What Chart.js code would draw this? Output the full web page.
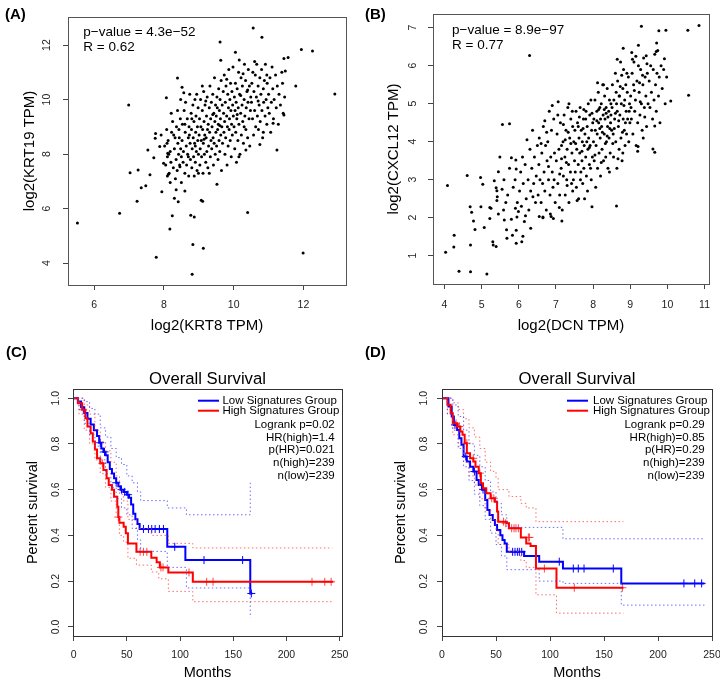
<!DOCTYPE html>
<html>
<head>
<meta charset="utf-8">
<script src="https://cdn.jsdelivr.net/npm/chart.js@4.4.1/dist/chart.umd.min.js"></script>
<style>
  body { margin: 0; background: #fff; overflow: hidden; font-family: "Liberation Sans", Arial, sans-serif; }
  #fig { position: relative; width: 720px; height: 679px; overflow: hidden; }
  canvas { position: absolute; }
  .tag { position: absolute; font-weight: bold; font-size: 15px; line-height: 18px; color: #000; }
</style>
</head>
<body>
<div id="fig">
  <canvas id="pa" width="360" height="335" style="left:0;top:0"></canvas>
  <canvas id="pb" width="360" height="335" style="left:360px;top:0"></canvas>
  <canvas id="pc" width="360" height="352" style="left:0;top:335px"></canvas>
  <canvas id="pd" width="360" height="352" style="left:360px;top:335px"></canvas>
  <div class="tag" style="left:5px;top:5px">(A)</div>
  <div class="tag" style="left:365px;top:5px">(B)</div>
  <div class="tag" style="left:6px;top:343px">(C)</div>
  <div class="tag" style="left:365px;top:343px">(D)</div>
</div>
<script>
// (A) log2(KRT8 TPM) vs log2(KRT19 TPM)
const krt8vs19 = [
  [5.52,5.47],[6.73,5.83],[6.99,9.8],[7.03,7.32],[7.26,7.42],[7.23,6.27],[7.35,6.77],[7.48,6.84],[7.6,7.24],[7.54,8.15],
  [7.71,7.87],[7.75,8.58],[7.76,8.76],[7.94,6.62],[7.78,4.22],[7.88,8.28],[7.92,8.7],[7.99,7.67],[8.07,10.07],[8.09,8.4],
  [8.11,8.03],[8.13,7.26],[8.18,6.96],[8.17,5.25],[8.24,5.74],[8.3,6.38],[8.35,6.69],[8.41,6.25],[8.39,10.79],[8.52,10.45],
  [8.48,10.0],[8.46,7.54],[8.5,6.96],[8.6,6.65],[8.77,5.76],[8.87,5.69],[8.83,4.69],[8.81,3.59],[9.13,4.55],[8.99,7.3],
  [9.07,6.31],[9.11,6.27],[9.52,6.9],[9.61,12.11],[9.63,11.44],[10.56,12.63],[10.81,12.29],[11.94,11.84],[12.26,11.78],[11.56,11.54],
  [11.44,11.51],[11.78,10.5],[12.9,10.21],[11.44,9.44],[11.24,8.15],[11.13,9.13],[11.99,4.37],[10.4,5.86],[10.05,11.74],[10.16,11.45],
  [8.02,8.3],[8.05,7.6],[8.08,8.9],[8.1,7.9],[8.12,8.5],[8.15,7.3],[8.18,8.1],[8.2,7.7],[8.22,8.8],[8.25,9.2],
  [8.27,7.5],[8.3,8.2],[8.32,8.6],[8.35,7.8],[8.36,9.0],[8.38,7.4],[8.4,8.4],[8.42,8.0],[8.43,8.9],[8.45,7.6],
  [8.47,9.3],[8.48,8.2],[8.5,7.9],[8.28,8.7],[8.14,8.0],[8.33,7.1],[8.44,8.6],[8.21,9.5],[8.39,9.6],[8.1,7.2],
  [8.52,8.5],[8.53,9.1],[8.55,7.7],[8.56,8.1],[8.58,9.6],[8.6,7.3],[8.61,8.8],[8.62,9.9],[8.64,8.3],[8.65,7.6],
  [8.67,9.3],[8.68,8.0],[8.7,8.6],[8.71,7.2],[8.72,9.0],[8.74,10.2],[8.75,8.4],[8.76,7.8],[8.78,9.5],[8.79,8.9],
  [8.8,7.5],[8.81,8.2],[8.83,9.8],[8.84,8.6],[8.85,7.9],[8.86,9.2],[8.88,8.4],[8.89,10.0],[8.9,7.7],[8.91,8.8],
  [8.92,9.4],[8.93,8.1],[8.95,7.4],[8.96,9.0],[8.97,8.5],[8.98,9.7],[8.99,8.0],[8.6,9.1],[8.7,7.9],[8.8,9.3],
  [8.9,8.3],[8.57,10.25],[8.73,8.7],[8.87,7.2],[8.94,10.2],
  [9.01,8.7],[9.02,9.3],[9.03,7.6],[9.04,8.2],[9.05,10.0],[9.06,9.0],[9.07,8.5],[9.08,7.9],[9.1,9.6],[9.11,8.9],
  [9.12,7.3],[9.13,8.4],[9.14,10.3],[9.15,9.2],[9.16,8.0],[9.17,8.7],[9.18,9.8],[9.2,7.7],[9.21,8.6],[9.22,9.4],
  [9.23,8.1],[9.24,10.1],[9.25,8.9],[9.26,7.5],[9.27,9.1],[9.28,8.3],[9.3,9.7],[9.31,8.8],[9.32,10.5],[9.33,7.9],
  [9.34,9.3],[9.35,8.5],[9.36,9.9],[9.37,8.2],[9.38,9.0],[9.4,10.2],[9.41,8.6],[9.42,7.6],[9.43,9.5],[9.44,8.4],
  [9.45,10.8],[9.46,9.2],[9.47,8.0],[9.48,9.8],[9.49,8.8],[9.1,10.5],[9.2,9.95],[9.3,7.3],[9.4,9.45],[9.15,8.55],
  [9.5,9.4],[9.51,8.3],[9.52,10.1],[9.53,9.7],[9.54,8.9],[9.55,7.8],[9.56,9.1],[9.57,10.4],[9.58,8.5],[9.59,9.6],
  [9.6,8.1],[9.61,10.0],[9.62,9.3],[9.63,8.7],[9.64,10.7],[9.65,7.4],[9.66,9.0],[9.67,9.8],[9.68,8.4],[9.7,10.3],
  [9.71,9.5],[9.72,8.8],[9.73,10.9],[9.74,9.2],[9.75,8.0],[9.76,9.9],[9.77,8.6],[9.78,10.5],[9.8,9.4],[9.81,7.6],
  [9.82,9.0],[9.83,10.2],[9.84,8.3],[9.85,9.7],[9.86,11.1],[9.87,8.9],[9.88,9.3],[9.89,10.0],[9.9,8.5],[9.91,10.6],
  [9.92,9.6],[9.93,7.9],[9.94,9.1],[9.95,10.3],[9.96,8.7],[9.97,9.8],[9.98,11.2],[9.99,9.4],[9.6,9.05],[9.8,10.75],
  [10.01,9.0],[10.02,10.1],[10.03,8.2],[10.04,9.6],[10.05,10.6],[10.06,8.8],[10.07,9.9],[10.08,7.7],[10.09,9.3],[10.1,10.4],
  [10.12,8.5],[10.13,9.7],[10.14,11.0],[10.15,9.1],[10.17,10.2],[10.18,8.0],[10.2,9.5],[10.21,10.8],[10.22,8.7],[10.24,9.8],
  [10.25,10.5],[10.26,9.2],[10.28,8.4],[10.3,10.0],[10.31,11.3],[10.32,9.4],[10.34,10.7],[10.35,8.9],[10.36,9.7],[10.38,10.3],
  [10.4,8.6],[10.41,9.9],[10.42,11.1],[10.44,9.3],[10.45,10.5],[10.46,8.3],[10.48,9.6],[10.49,10.1],[10.1,9.45],[10.2,10.15],
  [10.3,9.0],[10.4,10.35],[10.15,7.9],[10.35,8.15],[10.27,10.95],
  [10.51,9.9],[10.52,10.6],[10.54,9.3],[10.55,11.0],[10.57,8.7],[10.58,10.3],[10.6,9.6],[10.62,10.9],[10.63,9.0],[10.65,10.1],
  [10.66,11.3],[10.68,9.4],[10.7,10.5],[10.71,8.9],[10.73,9.8],[10.75,10.8],[10.76,9.2],[10.78,10.2],[10.8,11.1],[10.81,9.6],
  [10.83,8.6],[10.85,10.4],[10.86,9.9],[10.88,10.7],[10.9,9.4],[10.91,11.3],[10.93,10.0],[10.95,9.1],[10.96,10.6],[10.98,9.7],
  [10.6,11.4],[10.7,9.95],[10.85,8.8],[10.75,8.35],[10.95,10.9],
  [11.0,10.2],[11.02,9.5],[11.04,10.8],[11.06,8.8],[11.08,9.9],[11.1,11.2],[11.12,10.4],[11.14,9.3],[11.16,10.0],[11.2,10.9],
  [11.22,9.7],[11.25,10.5],[11.28,9.1],[11.3,10.2],[11.34,9.8],[11.38,11.0],[11.4,10.6],[11.42,9.5],[11.46,10.1],[11.48,11.05]
];

// (B) log2(DCN TPM) vs log2(CXCL12 TPM)
const dcnVsCxcl12 = [
  [4.03,1.09],[4.08,2.85],[4.25,1.23],[4.26,1.54],[4.39,0.59],[4.7,0.58],[5.14,0.52],[4.61,3.11],[4.97,3.06],[5.03,2.88],
  [4.69,2.29],[4.98,2.29],[4.73,2.14],[4.78,1.91],[4.82,1.69],[4.7,1.28],[5.07,1.74],[5.22,2.27],[5.22,1.98],[5.45,3.21],
  [5.34,2.97],[5.41,2.71],[5.42,2.55],[5.41,2.45],[5.45,2.1],[5.25,2.25],[5.3,1.37],[5.39,1.24],[5.31,1.28],[5.67,1.68],
  [5.68,1.46],[5.59,2.2],[5.61,1.94],[5.49,3.6],[5.39,2.79],[5.8,3.58],[5.92,3.52],[5.93,3.28],[5.8,1.96],[5.95,2.02],
  [5.91,2.25],[5.83,1.54],[5.93,1.33],[6.08,1.37],[6.11,1.51],[5.93,1.67],[5.96,2.4],[5.99,2.16],[6.32,1.72],[6.55,2.03],
  [6.65,2.02],[6.87,2.03],[6.93,1.98],[7.16,1.91],[7.09,2.27],[5.56,4.45],[5.75,4.47],[6.29,6.27],[8.63,2.31],[7.97,2.29],
  [9.3,7.04],[9.77,6.92],[9.96,6.93],[10.55,6.93],[10.85,7.06],[10.57,5.22],[10.09,5.07],[9.61,3.81],[9.66,3.72],[9.21,3.87],
  [9.66,4.41],[8.81,6.46],[9.22,6.54],[9.71,6.6],[9.04,6.35],[9.7,6.37],[9.06,6.17],[8.65,6.17],[9.43,6.26],[9.92,6.18],
  [5.6,3.0],[5.7,2.6],[5.75,3.3],[5.85,2.8],[5.65,2.4],[5.9,3.0],[5.55,2.75],
  [6.02,2.7],[6.05,3.2],[6.07,2.3],[6.1,3.6],[6.12,2.9],[6.15,1.9],[6.17,3.4],[6.2,2.5],[6.22,4.05],[6.25,3.0],
  [6.27,2.2],[6.3,3.8],[6.32,2.7],[6.35,3.3],[6.37,4.3],[6.4,2.9],[6.42,3.6],[6.45,2.4],[6.47,3.1],[6.5,3.9],
  [6.18,2.05],[6.38,2.55],
  [6.52,2.6],[6.54,3.4],[6.55,4.1],[6.57,3.0],[6.6,2.4],[6.62,3.7],[6.64,2.9],[6.66,4.4],[6.68,3.2],[6.7,2.7],
  [6.72,3.9],[6.74,2.2],[6.76,3.5],[6.78,4.0],[6.8,3.0],[6.82,4.8],[6.84,2.6],[6.86,3.6],[6.88,4.3],[6.9,3.2],
  [6.92,2.8],[6.94,4.6],[6.96,3.7],[6.98,2.4],[6.6,3.95],[6.7,4.55],[6.8,3.35],[6.9,4.95],[6.95,3.0],[6.65,2.0],
  [6.85,2.1],[6.75,4.25],
  [7.01,3.5],[7.03,4.2],[7.05,2.9],[7.06,5.05],[7.08,3.8],[7.1,2.6],[7.12,4.5],[7.14,3.3],[7.15,3.9],[7.17,2.2],
  [7.19,4.0],[7.2,3.1],[7.22,4.7],[7.24,3.6],[7.25,2.6],[7.27,4.3],[7.29,3.0],[7.3,3.8],[7.32,4.9],[7.34,3.4],
  [7.35,2.4],[7.37,4.1],[7.39,3.2],[7.4,4.6],[7.42,2.9],[7.43,3.7],[7.45,4.4],[7.47,3.0],[7.48,4.0],[7.5,3.5],
  [7.05,4.7],[7.15,3.55],[7.25,4.05],[7.35,5.0],[7.45,2.7],[7.1,3.15],[7.3,2.85],[7.4,3.95],[7.2,4.45],[7.33,4.25],
  [7.44,4.8],[7.28,3.45],
  [7.51,4.3],[7.52,3.2],[7.54,4.8],[7.55,2.8],[7.56,3.8],[7.58,4.5],[7.6,3.4],[7.61,2.5],[7.62,4.1],[7.64,3.7],
  [7.65,4.9],[7.66,3.0],[7.68,4.3],[7.7,3.5],[7.71,4.0],[7.72,2.9],[7.74,4.6],[7.75,3.3],[7.76,3.9],[7.78,4.2],
  [7.8,3.6],[7.81,4.8],[7.82,3.1],[7.84,4.4],[7.85,2.7],[7.86,3.8],[7.88,4.1],[7.9,3.4],[7.91,4.7],[7.92,3.9],
  [7.94,5.1],[7.95,3.0],[7.96,4.3],[7.98,3.6],[7.99,4.5],[7.53,3.95],[7.57,2.45],[7.63,4.65],[7.67,3.2],[7.73,4.35],
  [7.77,2.5],[7.83,4.0],[7.87,5.0],[7.93,3.3],[7.97,4.75],[7.6,4.4],[7.7,3.75],[7.8,4.6],[7.9,3.85],[7.75,4.85],
  [8.01,4.0],[8.02,4.6],[8.03,3.5],[8.05,5.1],[8.06,4.3],[8.07,2.8],[8.08,3.9],[8.1,4.8],[8.11,4.2],[8.12,3.3],
  [8.14,5.3],[8.15,4.5],[8.16,3.7],[8.18,4.9],[8.19,4.1],[8.2,3.1],[8.22,5.0],[8.23,4.4],[8.24,3.8],[8.26,5.5],
  [8.27,4.7],[8.28,3.5],[8.3,4.2],[8.31,5.2],[8.32,4.6],[8.34,3.6],[8.35,4.9],[8.36,4.0],[8.38,5.4],[8.39,4.4],
  [8.4,3.3],[8.42,4.8],[8.43,4.1],[8.44,5.1],[8.46,3.7],[8.47,4.5],[8.48,5.0],[8.5,4.3],[8.05,3.65],[8.15,4.85],
  [8.25,4.25],[8.35,4.75],[8.45,4.35],[8.1,4.55],[8.2,4.6],[8.3,4.85],[8.4,4.65],[8.12,5.55],[8.22,3.45],[8.33,3.95],
  [8.44,3.2],[8.28,5.5],[8.18,4.35],[8.38,4.15],[8.48,4.7],
  [8.51,4.9],[8.52,5.5],[8.54,4.2],[8.55,3.6],[8.56,5.1],[8.58,4.6],[8.6,5.8],[8.61,4.0],[8.62,5.3],[8.64,3.3],
  [8.65,4.8],[8.66,5.6],[8.68,4.4],[8.7,3.8],[8.71,5.2],[8.72,4.7],[8.74,6.1],[8.75,4.1],[8.76,5.0],[8.78,3.5],
  [8.8,5.4],[8.81,4.6],[8.82,5.9],[8.84,4.3],[8.85,5.1],[8.86,3.9],[8.88,5.5],[8.89,4.8],[8.9,4.2],[8.92,5.3],
  [8.93,4.6],[8.95,5.7],[8.96,4.0],[8.98,5.0],[8.99,4.5],[8.57,4.35],[8.63,5.0],[8.69,4.55],[8.73,5.45],[8.79,4.25],
  [8.83,4.95],[8.87,4.5],[8.91,5.8],[8.97,4.8],[8.53,3.95],[8.67,3.55],[8.77,5.75],[8.6,4.75],[8.7,5.2],[8.8,3.7],
  [9.01,5.2],[9.03,4.6],[9.05,5.8],[9.07,4.2],[9.09,5.5],[9.1,6.1],[9.12,4.8],[9.14,5.1],[9.16,3.9],[9.18,5.6],
  [9.2,4.5],[9.22,6.0],[9.24,5.3],[9.26,4.7],[9.28,5.9],[9.3,5.0],[9.32,4.3],[9.34,5.5],[9.36,6.2],[9.38,4.9],
  [9.4,5.7],[9.42,5.2],[9.44,4.4],[9.46,5.8],[9.48,5.0],[9.02,4.9],[9.11,5.35],[9.2,3.75],[9.27,5.05],[9.33,5.75],
  [9.39,4.65],[9.45,6.05],[9.15,6.25],[9.25,5.55],[9.35,4.1],
  [9.51,5.6],[9.53,4.9],[9.55,6.0],[9.57,5.3],[9.6,4.6],[9.62,5.9],[9.64,5.1],[9.66,6.3],[9.68,5.5],[9.7,4.8],
  [9.72,5.8],[9.74,6.4],[9.76,5.2],[9.78,5.7],[9.8,4.5],[9.83,6.0],[9.86,5.4],[9.9,5.9],[9.94,5.0],[9.98,5.7]
];

// (C) Kaplan-Meier, months and survival after each step
const cLowT  = [0,4,7,10,13,16,19,22,24,26,28,30,32,34,36,38,40,42,44,47,50,52,54,56,58,60,62,88,105,166,168];
const cLowS  = [1,0.985,0.96,0.935,0.91,0.885,0.86,0.835,0.805,0.78,0.765,0.75,0.72,0.69,0.67,0.65,0.63,0.615,0.6,0.59,0.578,0.565,0.535,0.495,0.47,0.45,0.428,0.35,0.292,0.146,0.146];
const cHighT = [0,4,8,11,13,16,18,20,22,25,28,31,33,36,38,41,42,43,47,49,51,59,73,78,81,89,112,244];
const cHighS = [1,0.978,0.949,0.912,0.876,0.847,0.81,0.775,0.737,0.715,0.686,0.65,0.62,0.6,0.569,0.525,0.48,0.455,0.438,0.409,0.365,0.328,0.302,0.282,0.26,0.238,0.197,0.197];
const cLowCensT  = [25,29,40,45,48,51,65.6,70.3,73.4,76.6,80.6,84.4,95,122.5,158.8,167];
const cLowCensS  = [0.805,0.765,0.63,0.6,0.59,0.578,0.428,0.428,0.428,0.428,0.428,0.428,0.35,0.292,0.292,0.146];
const cHighCensT = [9,27,42,62.5,65.6,68.8,82,84,108.4,125,131,224,236,242];
const cHighCensS = [0.949,0.715,0.48,0.328,0.328,0.328,0.26,0.26,0.238,0.197,0.197,0.197,0.197,0.197];
const cLowUpT  = [0,5,10,15,20,25,30,35,40,45,50,55,60,63,88,106,166];
const cLowUpS  = [1,1,0.985,0.955,0.93,0.87,0.83,0.78,0.74,0.71,0.66,0.63,0.59,0.552,0.52,0.49,0.63];
const cLowLoT  = [0,5,10,15,20,25,30,35,40,45,50,55,60,63,88,106,166];
const cLowLoS  = [1,0.95,0.89,0.84,0.79,0.73,0.67,0.61,0.56,0.52,0.49,0.43,0.38,0.33,0.26,0.17,0.04];
const cHighUpT = [0,5,10,15,20,25,30,35,40,43,47,51,59,73,89,112,243];
const cHighUpS = [1,1,0.97,0.93,0.86,0.81,0.77,0.72,0.66,0.58,0.55,0.47,0.43,0.4,0.365,0.345,0.345];
const cHighLoT = [0,5,10,15,20,25,30,35,40,43,47,51,59,73,80,89,112,243];
const cHighLoS = [1,0.93,0.86,0.8,0.73,0.67,0.61,0.55,0.49,0.4,0.37,0.3,0.27,0.24,0.21,0.155,0.11,0.11];

// (D) Kaplan-Meier
const dLowT  = [0,6,9,11,14,16,18,20,23,26,29,32,34,37,40,42,44,47,49,51,54,56,58,60,76,90,112,166,243];
const dLowS  = [1,0.964,0.92,0.883,0.861,0.825,0.796,0.745,0.723,0.7,0.679,0.642,0.62,0.6,0.555,0.511,0.489,0.467,0.445,0.423,0.4,0.38,0.365,0.328,0.31,0.285,0.255,0.19,0.19];
const dHighT = [0,5,8,10,14,17,19,21,23,26,29,31,34,36,38,41,45,49,51,52,60,62,73,78,82,87,106,168];
const dHighS = [1,0.971,0.934,0.89,0.876,0.854,0.84,0.803,0.759,0.737,0.723,0.7,0.672,0.628,0.606,0.584,0.562,0.547,0.504,0.46,0.453,0.431,0.391,0.365,0.353,0.255,0.171,0.171];
const dLowCensT  = [12,22,30,38,65.4,67.6,69.8,71.6,73.8,108.6,121.6,126.2,131.5,158.6,224,234,240.4];
const dLowCensS  = [0.883,0.745,0.679,0.6,0.328,0.328,0.328,0.328,0.328,0.285,0.255,0.255,0.255,0.255,0.19,0.19,0.19];
const dHighCensT = [13,16,23,29,35,46,48,57,59,64.5,66.7,68.5,70.7,80,81,94.8,122.5,167];
const dHighCensS = [0.89,0.876,0.803,0.737,0.672,0.562,0.562,0.46,0.453,0.431,0.431,0.431,0.431,0.391,0.391,0.255,0.171,0.171];
const dLowUpT  = [0,5,10,15,20,25,30,35,40,45,50,55,60,112,243];
const dLowUpS  = [1,1,0.97,0.92,0.86,0.8,0.75,0.7,0.64,0.59,0.54,0.49,0.435,0.385,0.385];
const dLowLoT  = [0,5,10,15,20,25,30,35,40,45,50,55,60,90,112,166,243];
const dLowLoS  = [1,0.93,0.86,0.78,0.7,0.64,0.58,0.53,0.47,0.41,0.36,0.31,0.25,0.2,0.19,0.095,0.095];
const dHighUpT = [0,5,10,15,20,25,30,35,40,45,50,52,62,73,78,87,168];
const dHighUpS = [1,1,0.98,0.95,0.91,0.87,0.83,0.78,0.72,0.68,0.65,0.6,0.57,0.54,0.52,0.46,0.46];
const dHighLoT = [0,5,10,15,20,25,30,35,40,45,50,52,62,73,78,87,106,168];
const dHighLoS = [1,0.93,0.84,0.79,0.72,0.66,0.62,0.56,0.51,0.47,0.42,0.36,0.33,0.29,0.26,0.14,0.06,0.06];

const statsC = ['Logrank p=0.02', 'HR(high)=1.4', 'p(HR)=0.021', 'n(high)=239', 'n(low)=239'];
const statsD = ['Logrank p=0.29', 'HR(high)=0.85', 'p(HR)=0.29', 'n(high)=239', 'n(low)=239'];
const groups = ['Low Signatures Group', 'High Signatures Group'];

const FONT = '"Liberation Sans", Arial, sans-serif';
const BLUE = '#0000ff', RED = '#ff0000';

const pts = (t, s) => t.map((v, i) => ({ x: v, y: s[i] }));
const pairs = arr => arr.map(p => ({ x: p[0], y: p[1] }));

// frame around the plot area, notes and the KM legend (R style)
const notesPlugin = {
  id: 'notes',
  afterDraw(chart, args, o) {
    const { ctx, chartArea: a } = chart;
    ctx.save();
    ctx.strokeStyle = o.frame || '#444';
    ctx.lineWidth = 1;
    ctx.strokeRect(Math.round(a.left) + 0.5, Math.round(a.top) + 0.5, Math.round(a.width), Math.round(a.height));
    ctx.textBaseline = 'middle';
    (o.keys || []).forEach(k => {
      ctx.strokeStyle = k.color; ctx.lineWidth = 2;
      ctx.beginPath();
      ctx.moveTo(a.right + k.x0, a.top + k.dy);
      ctx.lineTo(a.right + k.x1, a.top + k.dy);
      ctx.stroke();
    });
    (o.items || []).forEach(t => {
      ctx.font = t.font;
      ctx.fillStyle = '#000';
      ctx.textAlign = t.align || 'left';
      const base = t.from === 'right' ? a.right : t.from === 'center' ? (a.left + a.right) / 2 : a.left;
      ctx.fillText(t.text, base + t.dx, a.top + t.dy);
    });
    ctx.restore();
  }
};

function axis(pos, min, max, step, title, tSize, tPad, tickPad, size, fmt) {
  const horiz = pos === 'bottom';
  const ticks = {
    stepSize: step, includeBounds: false, padding: tickPad, color: '#222',
    font: { family: FONT, size: 10.5 }
  };
  if (fmt) ticks.callback = v => v.toFixed(fmt);
  return {
    type: 'linear', position: pos, min, max,
    afterFit: s => {
      if (horiz) s.height = size; else s.width = size;
      // keep the plot box where the figure has it; no room added for edge labels
      s.paddingLeft = s.paddingRight = s.paddingTop = s.paddingBottom = 0;
    },
    grid: { drawOnChartArea: false, drawTicks: true, tickLength: 5, color: '#444' },
    border: { display: false },
    ticks: Object.assign(ticks, horiz ? { maxRotation: 0 } : { minRotation: 90, maxRotation: 90, crossAlign: 'center' }),
    title: {
      display: true, text: title, color: '#000',
      font: { family: FONT, size: tSize, lineHeight: 1.2 },
      padding: horiz ? { top: 0, bottom: tPad } : { top: tPad, bottom: 0 }
    }
  };
}

function baseOptions(pad, scales, notes) {
  return {
    responsive: false, animation: false, devicePixelRatio: 1,
    layout: { padding: { left: 0, bottom: 0, top: pad.top, right: pad.right } },
    plugins: { legend: { display: false }, tooltip: { enabled: false }, notes },
    scales
  };
}

function scatterChart(id, data, pad, x, y, lines) {
  new Chart(document.getElementById(id), {
    type: 'scatter',
    data: { datasets: [{ data: pairs(data), pointRadius: 1.5, backgroundColor: '#000', borderWidth: 0 }] },
    options: baseOptions(pad, { x, y }, {
      frame: '#555',
      items: lines.map((t, i) => ({ text: t, dx: pad.noteX, dy: pad.noteY + i * 15, font: '13.5px ' + FONT }))
    }),
    plugins: [notesPlugin]
  });
}

function stepLine(t, s, color, width, dash) {
  return { data: pts(t, s), showLine: true, stepped: true, borderColor: color, borderWidth: width,
           borderDash: dash || [], pointRadius: 0, fill: false };
}
function censor(t, s, color) {
  return { data: pts(t, s), pointStyle: 'cross', pointRadius: 4, borderColor: color, borderWidth: 1, showLine: false };
}

function kmChart(id, k, pad, xmax, stats) {
  const items = [{ text: 'Overall Survival', from: 'center', dx: 0, dy: -10, align: 'center', font: '16.7px ' + FONT }];
  groups.forEach((g, i) => items.push({ text: g, from: 'right', dx: pad.keyText, dy: 11.7 + i * 10, font: '11.5px ' + FONT }));
  stats.forEach((s, i) => items.push({ text: s, from: 'right', dx: -7.3, dy: 35.7 + i * 12.75, align: 'right', font: '11.5px ' + FONT }));
  new Chart(document.getElementById(id), {
    type: 'scatter',
    data: {
      datasets: [
        stepLine(k.lowUpT, k.lowUpS, 'rgba(60,60,255,0.75)', 1, [1.5, 2.5]),
        stepLine(k.lowLoT, k.lowLoS, 'rgba(60,60,255,0.75)', 1, [1.5, 2.5]),
        stepLine(k.highUpT, k.highUpS, 'rgba(255,60,60,0.75)', 1, [1.5, 2.5]),
        stepLine(k.highLoT, k.highLoS, 'rgba(255,60,60,0.75)', 1, [1.5, 2.5]),
        stepLine(k.highT, k.highS, RED, 2),
        stepLine(k.lowT, k.lowS, BLUE, 2),
        censor(k.highCT, k.highCS, 'rgba(255,40,40,0.85)'),
        censor(k.lowCT, k.lowCS, BLUE)
      ]
    },
    options: baseOptions(pad, {
      x: axis('bottom', pad.xmin, xmax, 50, 'Months', 14.5, 5, 8, 51),
      y: axis('left', -0.04, 1.04, 0.2, 'Percent survival', 14.5, pad.yTitle, pad.yTick, pad.yw, 1)
    }, {
      frame: '#333',
      keys: [{ color: BLUE, x0: pad.key0, x1: pad.key1, dy: 11.7 }, { color: RED, x0: pad.key0, x1: pad.key1, dy: 21.7 }],
      items
    }),
    plugins: [notesPlugin]
  });
}

scatterChart('pa', krt8vs19, { top: 17, right: 14, noteX: 15.3, noteY: 15.7 },
  axis('bottom', 5.25, 13.22, 2, 'log2(KRT8 TPM)', 15, 0, 9, 50),
  axis('left', 3.2, 13.03, 2, 'log2(KRT19 TPM)', 15, 21, 10.4, 68),
  ['p\u2212value = 4.3e\u221252', 'R = 0.62']);

scatterChart('pb', dcnVsCxcl12, { top: 14, right: 11, noteX: 19, noteY: 16.7 },
  axis('bottom', 3.69, 11.12, 1, 'log2(DCN TPM)', 15, 0, 10, 51),
  axis('left', 0.255, 7.36, 1, 'log2(CXCL12 TPM)', 15, 25, 12.2, 73),
  ['p\u2212value = 8.9e\u221297', 'R = 0.77']);

kmChart('pc', {
  lowT: cLowT, lowS: cLowS, highT: cHighT, highS: cHighS,
  lowCT: cLowCensT, lowCS: cLowCensS, highCT: cHighCensT, highCS: cHighCensS,
  lowUpT: cLowUpT, lowUpS: cLowUpS, lowLoT: cLowLoT, lowLoS: cLowLoS,
  highUpT: cHighUpT, highUpS: cHighUpS, highLoT: cHighLoT, highLoS: cHighLoS
}, { top: 54, right: 18, xmin: -0.6, yw: 73, yTitle: 24.3, yTick: 5, key0: -144, key1: -123, keyText: -119.6 }, 252.2, statsC);

kmChart('pd', {
  lowT: dLowT, lowS: dLowS, highT: dHighT, highS: dHighS,
  lowCT: dLowCensT, lowCS: dLowCensS, highCT: dHighCensT, highCS: dHighCensS,
  lowUpT: dLowUpT, lowUpS: dLowUpS, lowLoT: dLowLoT, lowLoS: dLowLoS,
  highUpT: dHighUpT, highUpS: dHighUpS, highLoT: dHighLoT, highLoS: dHighLoS
}, { top: 54, right: 8, xmin: 0, yw: 82, yTitle: 32.6, yTick: 5.7, key0: -145, key1: -124, keyText: -119 }, 250, statsD);
</script>
</body>
</html>
